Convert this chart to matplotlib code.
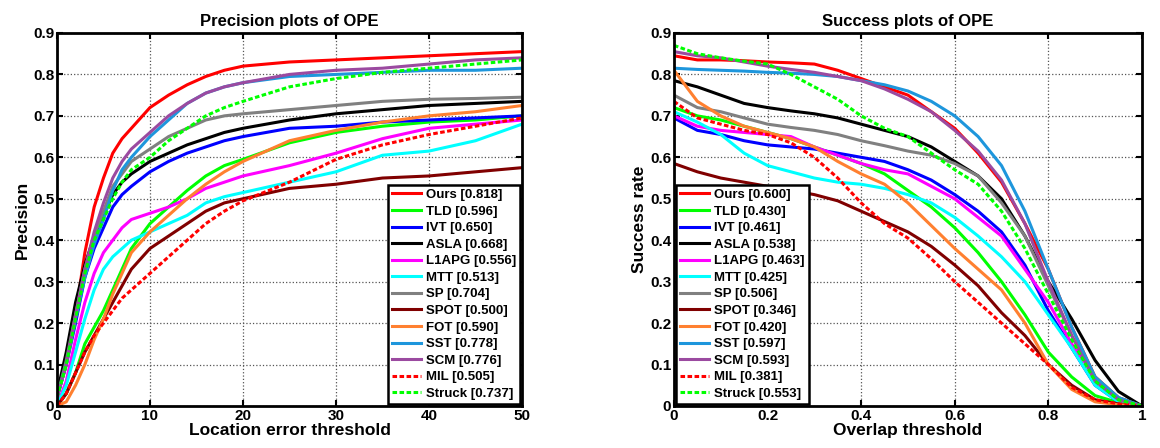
import numpy as np
import matplotlib.pyplot as plt

plt.rcParams['font.family'] = ['Liberation Sans', 'DejaVu Sans']
plt.rcParams['font.weight'] = 'bold'

# trackers, legend labels, colours
names = ['Ours', 'TLD', 'IVT', 'ASLA', 'L1APG', 'MTT', 'SP', 'SPOT', 'FOT', 'SST', 'SCM', 'MIL', 'Struck']
prec_scores = ['0.818', '0.596', '0.650', '0.668', '0.556', '0.513', '0.704', '0.500', '0.590', '0.778', '0.776', '0.505', '0.737']
succ_scores = ['0.600', '0.430', '0.461', '0.538', '0.463', '0.425', '0.506', '0.346', '0.420', '0.597', '0.593', '0.381', '0.553']
colors = ['#ff0000', '#00ff00', '#0000ff', '#000000', '#ff00ff', '#00ffff', '#808080',
          '#800000', '#ff8030', '#1e96dc', '#9b4aa0', '#ff0000', '#00ff00']
dashed = ['MIL', 'Struck']

# precision plot: location error threshold
px = [0, 1, 2, 3, 4, 5, 6, 7, 8, 10, 12, 14, 16, 18, 20, 25, 30, 35, 40, 45, 50]
prec = {
    'Ours':   [0.02, 0.10, 0.22, 0.37, 0.48, 0.55, 0.61, 0.645, 0.67, 0.72, 0.75, 0.775, 0.795, 0.81, 0.82, 0.83, 0.835, 0.84, 0.845, 0.85, 0.855],
    'TLD':    [0.0, 0.03, 0.08, 0.15, 0.19, 0.23, 0.28, 0.33, 0.38, 0.44, 0.48, 0.52, 0.555, 0.58, 0.595, 0.635, 0.66, 0.675, 0.685, 0.69, 0.70],
    'IVT':    [0.02, 0.10, 0.20, 0.31, 0.38, 0.43, 0.48, 0.51, 0.53, 0.565, 0.59, 0.61, 0.625, 0.64, 0.65, 0.67, 0.675, 0.685, 0.69, 0.695, 0.70],
    'ASLA':   [0.03, 0.13, 0.25, 0.34, 0.41, 0.46, 0.51, 0.54, 0.56, 0.59, 0.61, 0.63, 0.645, 0.66, 0.67, 0.69, 0.705, 0.715, 0.725, 0.73, 0.735],
    'L1APG':  [0.0, 0.06, 0.16, 0.25, 0.32, 0.37, 0.40, 0.43, 0.45, 0.465, 0.48, 0.50, 0.525, 0.54, 0.555, 0.58, 0.61, 0.645, 0.67, 0.68, 0.69],
    'MTT':    [0.0, 0.05, 0.13, 0.21, 0.28, 0.33, 0.36, 0.38, 0.40, 0.42, 0.44, 0.46, 0.49, 0.505, 0.515, 0.54, 0.565, 0.605, 0.615, 0.64, 0.68],
    'SP':     [0.02, 0.11, 0.22, 0.33, 0.41, 0.47, 0.53, 0.56, 0.59, 0.62, 0.65, 0.67, 0.69, 0.70, 0.705, 0.715, 0.725, 0.735, 0.74, 0.742, 0.745],
    'SPOT':   [0.0, 0.03, 0.08, 0.13, 0.17, 0.21, 0.25, 0.29, 0.33, 0.38, 0.41, 0.44, 0.47, 0.49, 0.50, 0.525, 0.535, 0.55, 0.555, 0.565, 0.575],
    'FOT':    [0.0, 0.01, 0.05, 0.10, 0.16, 0.21, 0.27, 0.32, 0.37, 0.42, 0.46, 0.50, 0.535, 0.565, 0.59, 0.64, 0.665, 0.685, 0.70, 0.71, 0.725],
    'SST':    [0.02, 0.10, 0.21, 0.31, 0.39, 0.45, 0.52, 0.57, 0.60, 0.65, 0.69, 0.73, 0.755, 0.77, 0.78, 0.795, 0.80, 0.805, 0.81, 0.81, 0.815],
    'SCM':    [0.02, 0.10, 0.22, 0.33, 0.42, 0.49, 0.55, 0.59, 0.62, 0.66, 0.70, 0.73, 0.755, 0.77, 0.78, 0.80, 0.81, 0.815, 0.825, 0.835, 0.84],
    'MIL':    [0.0, 0.03, 0.08, 0.13, 0.17, 0.20, 0.23, 0.26, 0.28, 0.32, 0.36, 0.40, 0.44, 0.47, 0.495, 0.54, 0.595, 0.63, 0.655, 0.675, 0.695],
    'Struck': [0.02, 0.10, 0.21, 0.32, 0.40, 0.45, 0.50, 0.54, 0.57, 0.60, 0.64, 0.67, 0.70, 0.72, 0.735, 0.77, 0.79, 0.805, 0.815, 0.825, 0.835],
}

# success plot: overlap threshold
sx = [0, 0.05, 0.1, 0.15, 0.2, 0.25, 0.3, 0.35, 0.4, 0.45, 0.5, 0.55, 0.6, 0.65, 0.7, 0.75, 0.8, 0.85, 0.9, 0.95, 1.0]
succ = {
    'Ours':   [0.845, 0.835, 0.835, 0.833, 0.83, 0.828, 0.825, 0.81, 0.79, 0.77, 0.75, 0.71, 0.67, 0.61, 0.54, 0.44, 0.33, 0.19, 0.07, 0.02, 0.0],
    'TLD':    [0.72, 0.70, 0.69, 0.675, 0.66, 0.645, 0.625, 0.605, 0.585, 0.56, 0.52, 0.48, 0.43, 0.37, 0.30, 0.22, 0.13, 0.07, 0.025, 0.008, 0.0],
    'IVT':    [0.695, 0.665, 0.655, 0.64, 0.63, 0.625, 0.62, 0.61, 0.60, 0.59, 0.57, 0.545, 0.51, 0.47, 0.42, 0.34, 0.23, 0.14, 0.05, 0.01, 0.0],
    'ASLA':   [0.785, 0.77, 0.75, 0.73, 0.72, 0.712, 0.705, 0.695, 0.68, 0.665, 0.65, 0.625, 0.59, 0.555, 0.50, 0.41, 0.30, 0.21, 0.11, 0.035, 0.0],
    'L1APG':  [0.70, 0.675, 0.665, 0.66, 0.655, 0.65, 0.625, 0.605, 0.585, 0.57, 0.56, 0.53, 0.50, 0.455, 0.41, 0.33, 0.25, 0.15, 0.07, 0.015, 0.0],
    'MTT':    [0.71, 0.685, 0.655, 0.61, 0.58, 0.565, 0.55, 0.54, 0.535, 0.525, 0.51, 0.49, 0.455, 0.41, 0.36, 0.30, 0.22, 0.14, 0.05, 0.01, 0.0],
    'SP':     [0.75, 0.72, 0.71, 0.695, 0.68, 0.672, 0.665, 0.655, 0.64, 0.628, 0.615, 0.605, 0.585, 0.555, 0.49, 0.41, 0.29, 0.17, 0.07, 0.02, 0.0],
    'SPOT':   [0.585, 0.565, 0.55, 0.54, 0.53, 0.52, 0.51, 0.495, 0.47, 0.445, 0.42, 0.385, 0.34, 0.29, 0.225, 0.17, 0.10, 0.05, 0.015, 0.005, 0.0],
    'FOT':    [0.81, 0.735, 0.70, 0.675, 0.66, 0.645, 0.625, 0.59, 0.56, 0.535, 0.49, 0.435, 0.38, 0.33, 0.28, 0.20, 0.10, 0.04, 0.01, 0.003, 0.0],
    'SST':    [0.815, 0.812, 0.81, 0.808, 0.805, 0.803, 0.80, 0.795, 0.785, 0.775, 0.76, 0.735, 0.70, 0.65, 0.58, 0.47, 0.33, 0.19, 0.07, 0.02, 0.0],
    'SCM':    [0.855, 0.845, 0.84, 0.83, 0.82, 0.812, 0.805, 0.795, 0.785, 0.765, 0.74, 0.71, 0.665, 0.615, 0.545, 0.44, 0.30, 0.17, 0.06, 0.015, 0.0],
    'MIL':    [0.735, 0.695, 0.68, 0.665, 0.655, 0.635, 0.60, 0.55, 0.49, 0.44, 0.405, 0.355, 0.30, 0.25, 0.20, 0.15, 0.10, 0.045, 0.015, 0.005, 0.0],
    'Struck': [0.87, 0.85, 0.84, 0.832, 0.825, 0.80, 0.77, 0.74, 0.70, 0.67, 0.65, 0.61, 0.57, 0.535, 0.47, 0.38, 0.27, 0.16, 0.06, 0.015, 0.0],
}

fig = plt.figure(figsize=(11.6, 4.48), dpi=100)
ax1 = fig.add_axes([0.0491, 0.0938, 0.4009, 0.8326])
ax2 = fig.add_axes([0.581, 0.0938, 0.4034, 0.8326])


def draw(ax, x, data, scores, xlim, xticks, xticklabels, title, xlabel, ylabel, legend_loc, anchor):
    for name, score, c in zip(names, scores, colors):
        ls = (0, (1.5, 0.8)) if name in dashed else '-'
        ax.plot(x, data[name], color=c, lw=2.2, ls=ls, label=f'{name} [{score}]')
    ax.set_xlim(*xlim)
    ax.set_ylim(0, 0.9)
    ax.set_xticks(xticks)
    ax.set_xticklabels(xticklabels)
    ax.set_yticks(np.arange(0, 0.91, 0.1))
    ax.set_yticklabels(['0', '0.1', '0.2', '0.3', '0.4', '0.5', '0.6', '0.7', '0.8', '0.9'])
    ax.grid(True, ls=':', color='#555555', lw=0.9)
    ax.tick_params(direction='in', labelsize=11, width=1.5, length=4, top=True, right=True, pad=2)
    for s in ax.spines.values():
        s.set_linewidth(2)
    ax.set_title(title, fontsize=12, fontweight='bold', pad=5)
    ax.set_xlabel(xlabel, fontsize=12.5, fontweight='bold', labelpad=0)
    ax.set_ylabel(ylabel, fontsize=12.5, fontweight='bold', labelpad=2)
    leg = ax.legend(loc=legend_loc, bbox_to_anchor=anchor, fontsize=9.5, handlelength=2.2,
                    handletextpad=0.4, labelspacing=0.33, borderpad=0.3, borderaxespad=0.15,
                    fancybox=False, framealpha=1, edgecolor='black')
    leg.get_frame().set_linewidth(1.8)


draw(ax1, px, prec, prec_scores, (0, 50), [0, 10, 20, 30, 40, 50], ['0', '10', '20', '30', '40', '50'],
     'Precision plots of OPE', 'Location error threshold', 'Precision', 'lower right', (1.0, 0.0))
draw(ax2, sx, succ, succ_scores, (0, 1), [0, 0.2, 0.4, 0.6, 0.8, 1.0], ['0', '0.2', '0.4', '0.6', '0.8', '1'],
     'Success plots of OPE', 'Overlap threshold', 'Success rate', 'lower left', (0.0, 0.0))

plt.savefig('out.png', dpi=100)
